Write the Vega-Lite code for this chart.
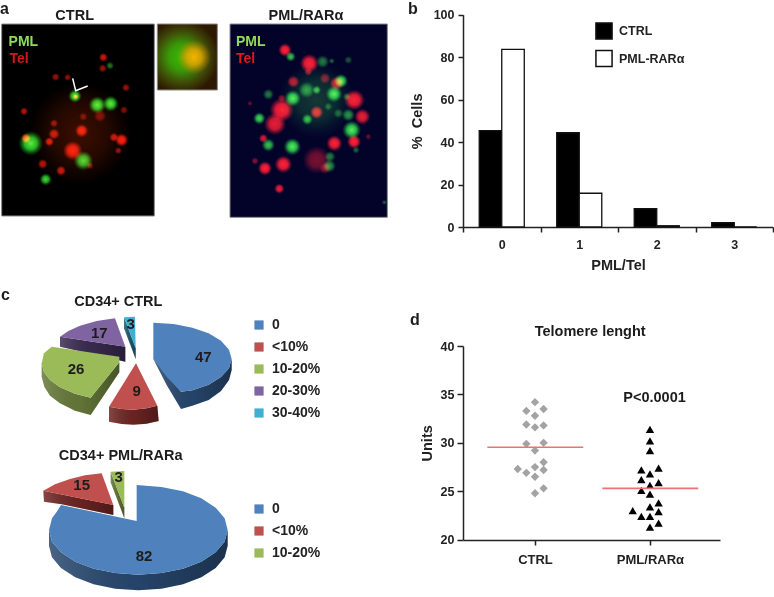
{
"$schema":"https://vega.github.io/schema/vega-lite/v6.json",
"padding":0,"background":"white","autosize":{"type":"pad"},
"columns":2,"bounds":"flush","spacing":{"row":0,"column":63},
"resolve":{"scale":{"color":"independent","shape":"independent","opacity":"independent","size":"independent"},"legend":{"color":"independent","shape":"independent","size":"independent","opacity":"independent"}},
"config":{"view":{"stroke":null},"font":"Liberation Sans","text":{"font":"Liberation Sans","fontWeight":"bold","color":"#1c1c1c"},
"axis":{"labelFont":"Liberation Sans","titleFont":"Liberation Sans","labelFontWeight":"bold","titleFontWeight":"bold","labelColor":"#222","titleColor":"#222","domainColor":"#222","tickColor":"#222","grid":false,"domainWidth":1.5,"tickWidth":1.5,"labelFontSize":12.5,"titleFontSize":14.5},
"legend":{"labelFont":"Liberation Sans","labelFontWeight":"bold","labelColor":"#222"}},
"datasets":{
"spots":[
{"cell":"CTRL","ch":"haze","x":240,"y":400,"spot":420,"lum":0.6},
{"cell":"CTRL","ch":"red","x":310,"y":172,"spot":3.2,"lum":0.8},{"cell":"CTRL","ch":"red","x":308,"y":205,"spot":2.6,"lum":0.6},{"cell":"CTRL","ch":"red","x":167,"y":231,"spot":2.6,"lum":0.6},{"cell":"CTRL","ch":"red","x":203,"y":232,"spot":2,"lum":0.6},{"cell":"CTRL","ch":"red","x":378,"y":263,"spot":2.6,"lum":0.6},{"cell":"CTRL","ch":"red","x":72,"y":334,"spot":2.6,"lum":0.7},{"cell":"CTRL","ch":"red","x":372,"y":330,"spot":2.6,"lum":0.5},{"cell":"CTRL","ch":"red","x":162,"y":370,"spot":2.6,"lum":0.6},{"cell":"CTRL","ch":"red","x":245,"y":392,"spot":7,"lum":1},{"cell":"CTRL","ch":"red","x":162,"y":402,"spot":5,"lum":0.8},{"cell":"CTRL","ch":"red","x":148,"y":425,"spot":3.4,"lum":0.9},{"cell":"CTRL","ch":"red","x":342,"y":412,"spot":3.4,"lum":0.8},{"cell":"CTRL","ch":"red","x":365,"y":420,"spot":7,"lum":1},{"cell":"CTRL","ch":"red","x":355,"y":452,"spot":2,"lum":0.6},{"cell":"CTRL","ch":"red","x":218,"y":452,"spot":15,"lum":1},{"cell":"CTRL","ch":"red","x":128,"y":492,"spot":4,"lum":0.7},{"cell":"CTRL","ch":"red","x":183,"y":512,"spot":4,"lum":0.8},{"cell":"CTRL","ch":"red","x":78,"y":415,"spot":4,"lum":1},{"cell":"CTRL","ch":"red","x":270,"y":497,"spot":2,"lum":0.5},{"cell":"CTRL","ch":"red","x":300,"y":348,"spot":6,"lum":0.45},{"cell":"CTRL","ch":"red","x":250,"y":350,"spot":2.6,"lum":0.45},{"cell":"CTRL","ch":"red","x":227,"y":290,"spot":1.2,"lum":1},
{"cell":"CTRL","ch":"green","x":330,"y":197,"spot":2.6,"lum":0.5},{"cell":"CTRL","ch":"green","x":225,"y":288,"spot":7,"lum":1},{"cell":"CTRL","ch":"green","x":292,"y":315,"spot":12,"lum":1},{"cell":"CTRL","ch":"green","x":332,"y":311,"spot":10,"lum":1},{"cell":"CTRL","ch":"green","x":92,"y":430,"spot":24,"lum":1},{"cell":"CTRL","ch":"green","x":250,"y":482,"spot":15,"lum":0.9},{"cell":"CTRL","ch":"green","x":137,"y":538,"spot":6,"lum":0.9},
{"cell":"PML","ch":"green","x":950,"y":300,"spot":220,"lum":0.22},
{"cell":"PML","ch":"red","x":855,"y":150,"spot":7,"lum":1},{"cell":"PML","ch":"red","x":928,"y":190,"spot":14,"lum":1},{"cell":"PML","ch":"red","x":880,"y":245,"spot":6,"lum":0.7},{"cell":"PML","ch":"red","x":975,"y":235,"spot":5,"lum":0.5},{"cell":"PML","ch":"red","x":1010,"y":250,"spot":8,"lum":0.8},{"cell":"PML","ch":"red","x":1063,"y":300,"spot":17,"lum":1},{"cell":"PML","ch":"red","x":845,"y":330,"spot":23,"lum":1},{"cell":"PML","ch":"red","x":825,"y":372,"spot":19,"lum":0.9},{"cell":"PML","ch":"red","x":1087,"y":350,"spot":10,"lum":0.9},{"cell":"PML","ch":"red","x":950,"y":337,"spot":7,"lum":0.9},{"cell":"PML","ch":"red","x":1062,"y":425,"spot":8,"lum":1},{"cell":"PML","ch":"red","x":1003,"y":430,"spot":10,"lum":1},{"cell":"PML","ch":"red","x":790,"y":415,"spot":3.2,"lum":0.8},{"cell":"PML","ch":"red","x":850,"y":493,"spot":12,"lum":1},{"cell":"PML","ch":"red","x":795,"y":505,"spot":8,"lum":1},{"cell":"PML","ch":"red","x":838,"y":566,"spot":4,"lum":0.9},{"cell":"PML","ch":"red","x":765,"y":483,"spot":2,"lum":0.5},{"cell":"PML","ch":"red","x":845,"y":295,"spot":2.6,"lum":0.5},{"cell":"PML","ch":"red","x":925,"y":215,"spot":2.6,"lum":0.6},{"cell":"PML","ch":"red","x":950,"y":480,"spot":30,"lum":0.45},{"cell":"PML","ch":"red","x":975,"y":505,"spot":5,"lum":0.5},{"cell":"PML","ch":"red","x":750,"y":310,"spot":1,"lum":0.4},{"cell":"PML","ch":"red","x":1105,"y":410,"spot":1.4,"lum":0.4},
{"cell":"PML","ch":"green","x":872,"y":170,"spot":4,"lum":0.8},{"cell":"PML","ch":"green","x":968,"y":185,"spot":7,"lum":0.5},{"cell":"PML","ch":"green","x":995,"y":183,"spot":1.4,"lum":0.4},{"cell":"PML","ch":"green","x":1045,"y":180,"spot":2.6,"lum":0.35},{"cell":"PML","ch":"green","x":1023,"y":243,"spot":8,"lum":1},{"cell":"PML","ch":"green","x":878,"y":295,"spot":11,"lum":1},{"cell":"PML","ch":"green","x":1002,"y":282,"spot":11,"lum":1},{"cell":"PML","ch":"green","x":805,"y":283,"spot":5,"lum":0.5},{"cell":"PML","ch":"green","x":920,"y":270,"spot":11,"lum":0.6},{"cell":"PML","ch":"green","x":950,"y":270,"spot":3.2,"lum":0.8},{"cell":"PML","ch":"green","x":778,"y":355,"spot":6,"lum":0.9},{"cell":"PML","ch":"green","x":922,"y":358,"spot":5,"lum":0.8},{"cell":"PML","ch":"green","x":1045,"y":345,"spot":7,"lum":0.6},{"cell":"PML","ch":"green","x":1055,"y":390,"spot":14,"lum":1},{"cell":"PML","ch":"green","x":877,"y":440,"spot":12,"lum":1},{"cell":"PML","ch":"green","x":805,"y":435,"spot":7,"lum":0.8},{"cell":"PML","ch":"green","x":990,"y":470,"spot":5,"lum":0.5},{"cell":"PML","ch":"green","x":988,"y":498,"spot":7,"lum":0.6},{"cell":"PML","ch":"green","x":1068,"y":450,"spot":2,"lum":0.4},{"cell":"PML","ch":"green","x":1015,"y":340,"spot":4,"lum":0.4},{"cell":"PML","ch":"green","x":1153,"y":607,"spot":1,"lum":0.4},{"cell":"PML","ch":"green","x":985,"y":320,"spot":2.6,"lum":0.4},{"cell":"PML","ch":"green","x":1040,"y":290,"spot":2.6,"lum":0.4}
],
"pies":[
{"pie":"CTRL","category":"20-30%","value":17,"part":"side","geometry":{"type":"Polygon","coordinates":[[[180,155],[376,185],[376,230],[180,185],[180,155]]]}},
{"pie":"CTRL","category":"30-40%","value":3,"part":"side","geometry":{"type":"Polygon","coordinates":[[[372,97],[407,190],[407,222],[372,130],[372,97]]]}},
{"pie":"CTRL","category":"10-20%","value":26,"part":"side","geometry":{"type":"Polygon","coordinates":[[[125,235],[132,262],[150,285],[180,307],[225,326],[272,338],[358,232],[358,262],[272,390],[225,377],[180,355],[150,332],[133,305],[125,275],[125,235]]]}},
{"pie":"CTRL","category":"<10%","value":9,"part":"side","geometry":{"type":"Polygon","coordinates":[[[327,365],[365,372],[400,374],[440,370],[472,362],[476,408],[440,416],[400,419],[365,417],[327,410],[327,365]]]}},
{"pie":"CTRL","category":"0","value":47,"part":"side","geometry":{"type":"Polygon","coordinates":[[[460,222],[543,320],[577,316],[626,299],[663,276],[687,250],[695,222],[695,255],[687,285],[663,318],[626,345],[577,362],[543,372],[500,300],[460,222]]]}},
{"pie":"PML","category":"<10%","value":15,"part":"side","geometry":{"type":"Polygon","coordinates":[[[130,617],[340,660],[340,690],[185,658],[132,650],[130,617]]]}},
{"pie":"PML","category":"10-20%","value":3,"part":"side","geometry":{"type":"Polygon","coordinates":[[[332,560],[373,668],[373,700],[332,592],[332,560]]]}},
{"pie":"PML","category":"0","value":82,"part":"side","geometry":{"type":"Polygon","coordinates":[[[147,735],[156,770],[183,802],[226,830],[281,851],[346,864],[415,869],[484,864],[549,851],[604,830],[647,802],[674,770],[683,735],[683,782],[674,817],[647,849],[604,877],[549,898],[484,911],[415,916],[346,911],[281,898],[226,877],[183,849],[156,817],[147,782],[147,735]]]}},
{"pie":"CTRL","category":"0","value":47,"part":"top","lx":610,"ly":215,"geometry":{"type":"Polygon","coordinates":[[[460,113],[521,117],[577,128],[626,145],[663,167],[687,194],[695,222],[687,250],[663,276],[626,299],[577,316],[543,320],[500,275],[460,222],[460,113]]]}},
{"pie":"CTRL","category":"<10%","value":9,"part":"top","lx":410,"ly":318,"geometry":{"type":"Polygon","coordinates":[[[408,235],[472,362],[440,370],[400,374],[365,372],[327,365],[408,235]]]}},
{"pie":"CTRL","category":"10-20%","value":26,"part":"top","lx":228,"ly":253,"geometry":{"type":"Polygon","coordinates":[[[155,185],[358,215],[358,232],[272,338],[225,326],[180,307],[150,285],[132,262],[125,235],[132,205],[155,185]]]}},
{"pie":"CTRL","category":"20-30%","value":17,"part":"top","lx":298,"ly":143,"geometry":{"type":"Polygon","coordinates":[[[345,100],[376,185],[180,155],[205,138],[240,122],[290,108],[345,100]]]}},
{"pie":"CTRL","category":"30-40%","value":3,"part":"top","lx":392,"ly":117,"geometry":{"type":"Polygon","coordinates":[[[372,97],[405,95],[407,190],[372,97]]]}},
{"pie":"PML","category":"0","value":82,"part":"top","lx":432,"ly":813,"geometry":{"type":"Polygon","coordinates":[[[410,600],[484,606],[549,619],[604,640],[647,668],[674,700],[683,735],[674,770],[647,802],[604,830],[549,851],[484,864],[415,869],[346,864],[281,851],[226,830],[183,802],[156,770],[147,735],[156,700],[172,678],[183,660],[410,708],[410,600]]]}},
{"pie":"PML","category":"<10%","value":15,"part":"top","lx":245,"ly":600,"geometry":{"type":"Polygon","coordinates":[[[130,617],[165,598],[210,582],[255,571],[305,565],[340,660],[130,617]]]}},
{"pie":"PML","category":"10-20%","value":3,"part":"top","lx":356,"ly":577,"geometry":{"type":"Polygon","coordinates":[[[332,560],[373,558],[373,668],[332,560]]]}}
]},
"concat":[
{"width":400,"height":285,
"resolve":{"scale":{"size":"independent","opacity":"independent","color":"independent"}},
"layer":[
{"data":{"values":[{"frame":"CTRL","x":5,"x1":463,"y":72,"y1":648},{"frame":"PML/RARα","x":690,"x1":1162,"y":72,"y1":652}]},
"mark":{"type":"rect","stroke":"#8a8a8a","strokeWidth":1},"encoding":{"x":{"field":"x","type":"quantitative","scale":{"domain":[0,1200],"nice":false},"axis":null},"y":{"field":"y","type":"quantitative","scale":{"domain":[0,855],"range":[0,285],"nice":false},"axis":null},"x2":{"field":"x1"},"y2":{"field":"y1"},"color":{"field":"frame","type":"nominal","scale":{"domain":["CTRL","PML/RARα"],"range":["#000000","#03032a"]},"legend":null}}},
{"data":{"values":[{"frame":"inset","x":472,"x1":652,"y":72,"y1":270}]},
"mark":{"type":"rect","stroke":"#8a8a8a","strokeWidth":1,"fill":{"gradient":"radial","x1":0.42,"y1":0.5,"r1":0,"x2":0.42,"y2":0.5,"r2":0.56,"stops":[{"offset":0,"color":"#2fc000"},{"offset":0.35,"color":"#3a9a08"},{"offset":0.7,"color":"#3f4a08"},{"offset":1,"color":"#2e1800"}]}},
"encoding":{"x":{"field":"x","type":"quantitative","scale":{"domain":[0,1200],"nice":false},"axis":null},"y":{"field":"y","type":"quantitative","scale":{"domain":[0,855],"range":[0,285],"nice":false},"axis":null},"x2":{"field":"x1"},"y2":{"field":"y1"}}},
{"data":{"values":[{"frame":"inset","x":472,"x1":652,"y":72,"y1":270}]},
"mark":{"type":"rect","fill":{"gradient":"radial","x1":0.6,"y1":0.5,"r1":0,"x2":0.6,"y2":0.5,"r2":0.26,"stops":[{"offset":0,"color":"#f4b400"},{"offset":0.45,"color":"rgba(235,165,0,0.8)"},{"offset":1,"color":"rgba(220,120,0,0)"}]}},
"encoding":{"x":{"field":"x","type":"quantitative","scale":{"domain":[0,1200],"nice":false},"axis":null},"y":{"field":"y","type":"quantitative","scale":{"domain":[0,855],"range":[0,285],"nice":false},"axis":null},"x2":{"field":"x1"},"y2":{"field":"y1"}}},
{"data":{"name":"spots"},"transform":[{"filter":"datum.ch==='haze'"}],
"mark":{"type":"circle","fill":{"gradient":"radial","x1":0.5,"y1":0.5,"r1":0,"x2":0.5,"y2":0.5,"r2":0.5,"stops":[{"offset":0,"color":"rgba(130,30,0,0.8)"},{"offset":0.55,"color":"rgba(110,25,0,0.55)"},{"offset":1,"color":"rgba(90,20,0,0)"}]}},
"encoding":{"x":{"field":"x","type":"quantitative","scale":{"domain":[0,1200],"nice":false},"axis":null},"y":{"field":"y","type":"quantitative","scale":{"domain":[0,855],"range":[0,285],"nice":false},"axis":null},"size":{"field":"spot","type":"quantitative","scale":{"domain":[0,10],"range":[0,252]},"legend":null},"opacity":{"field":"lum","type":"quantitative","scale":{"domain":[0,1],"range":[0,1]},"legend":null}}},
{"data":{"name":"spots"},"transform":[{"filter":"datum.ch==='red'"}],
"mark":{"type":"circle","blend":"screen","fill":{"gradient":"radial","x1":0.5,"y1":0.5,"r1":0,"x2":0.5,"y2":0.5,"r2":0.5,"stops":[{"offset":0,"color":"#ff1e10"},{"offset":0.5,"color":"rgba(245,25,15,0.9)"},{"offset":1,"color":"rgba(220,20,10,0)"}]}},
"encoding":{"x":{"field":"x","type":"quantitative","scale":{"domain":[0,1200],"nice":false},"axis":null},"y":{"field":"y","type":"quantitative","scale":{"domain":[0,855],"range":[0,285],"nice":false},"axis":null},"size":{"field":"spot","type":"quantitative","scale":{"domain":[0,10],"range":[0,252]},"legend":null},"opacity":{"field":"lum","type":"quantitative","scale":{"domain":[0,1],"range":[0,1]},"legend":null}}},
{"data":{"name":"spots"},"transform":[{"filter":"datum.ch==='green'"}],
"mark":{"type":"circle","blend":"screen","fill":{"gradient":"radial","x1":0.5,"y1":0.5,"r1":0,"x2":0.5,"y2":0.5,"r2":0.5,"stops":[{"offset":0,"color":"#5cf040"},{"offset":0.5,"color":"rgba(40,200,40,0.9)"},{"offset":1,"color":"rgba(20,140,30,0)"}]}},
"encoding":{"x":{"field":"x","type":"quantitative","scale":{"domain":[0,1200],"nice":false},"axis":null},"y":{"field":"y","type":"quantitative","scale":{"domain":[0,855],"range":[0,285],"nice":false},"axis":null},"size":{"field":"spot","type":"quantitative","scale":{"domain":[0,10],"range":[0,252]},"legend":null},"opacity":{"field":"lum","type":"quantitative","scale":{"domain":[0,1],"range":[0,1]},"legend":null}}},
{"data":{"values":[{"x":218,"y":235,"k":1},{"x":227,"y":272,"k":2},{"x":263,"y":258,"k":3}]},"mark":{"type":"line","color":"white","strokeWidth":1.5},"encoding":{"x":{"field":"x","type":"quantitative","scale":{"domain":[0,1200],"nice":false},"axis":null},"y":{"field":"y","type":"quantitative","scale":{"domain":[0,855],"range":[0,285],"nice":false},"axis":null},"order":{"field":"k"}}},
{"data":{"values":[{"t":"a"}]},"mark":{"type":"text","fontSize":16,"align":"left"},"encoding":{"x":{"datum":0,"scale":{"domain":[0,1200],"nice":false},"axis":null},"y":{"datum":27,"scale":{"domain":[0,855],"range":[0,285],"nice":false},"axis":null},"text":{"field":"t"}}},
{"data":{"values":[{"t":"CTRL"}]},"mark":{"type":"text","fontSize":14.5},"encoding":{"x":{"datum":224,"scale":{"domain":[0,1200],"nice":false},"axis":null},"y":{"datum":48,"scale":{"domain":[0,855],"range":[0,285],"nice":false},"axis":null},"text":{"field":"t"}}},
{"data":{"values":[{"t":"PML/RARα"}]},"mark":{"type":"text","fontSize":14.5},"encoding":{"x":{"datum":918,"scale":{"domain":[0,1200],"nice":false},"axis":null},"y":{"datum":48,"scale":{"domain":[0,855],"range":[0,285],"nice":false},"axis":null},"text":{"field":"t"}}},
{"data":{"values":[{"t":"PML"}]},"mark":{"type":"text","fontSize":14,"color":"#8fdc5c"},"encoding":{"x":{"datum":70,"scale":{"domain":[0,1200],"nice":false},"axis":null},"y":{"datum":125,"scale":{"domain":[0,855],"range":[0,285],"nice":false},"axis":null},"text":{"field":"t"}}},
{"data":{"values":[{"t":"Tel"}]},"mark":{"type":"text","fontSize":14,"color":"#d81818"},"encoding":{"x":{"datum":57,"scale":{"domain":[0,1200],"nice":false},"axis":null},"y":{"datum":178,"scale":{"domain":[0,855],"range":[0,285],"nice":false},"axis":null},"text":{"field":"t"}}},
{"data":{"values":[{"t":"PML"}]},"mark":{"type":"text","fontSize":14,"color":"#8fdc5c"},"encoding":{"x":{"datum":752,"scale":{"domain":[0,1200],"nice":false},"axis":null},"y":{"datum":125,"scale":{"domain":[0,855],"range":[0,285],"nice":false},"axis":null},"text":{"field":"t"}}},
{"data":{"values":[{"t":"Tel"}]},"mark":{"type":"text","fontSize":14,"color":"#e01818"},"encoding":{"x":{"datum":737,"scale":{"domain":[0,1200],"nice":false},"axis":null},"y":{"datum":178,"scale":{"domain":[0,855],"range":[0,285],"nice":false},"axis":null},"text":{"field":"t"}}},
{"data":{"values":[{"t":"b"}]},"mark":{"type":"text","fontSize":16,"align":"left"},"encoding":{"x":{"datum":1224,"scale":{"domain":[0,1200],"nice":false},"axis":null},"y":{"datum":27,"scale":{"domain":[0,855],"range":[0,285],"nice":false},"axis":null},"text":{"field":"t"}}}
]},
{"width":310,"height":227,
"data":{"values":[{"tel":"0","group":"CTRL","cells":45.4},{"tel":"0","group":"PML-RARα","cells":83.7},{"tel":"1","group":"CTRL","cells":44.4},{"tel":"1","group":"PML-RARα","cells":15.9},{"tel":"2","group":"CTRL","cells":8.6},{"tel":"2","group":"PML-RARα","cells":0.6},{"tel":"3","group":"CTRL","cells":2.0},{"tel":"3","group":"PML-RARα","cells":0}]},
"mark":{"type":"bar","stroke":"#111","strokeWidth":1.3},
"encoding":{
"x":{"field":"tel","type":"nominal","scale":{"paddingInner":0,"paddingOuter":0},"axis":{"labelAngle":0,"tickBand":"extent","title":"PML/Tel","tickSize":5,"labelPadding":6,"titlePadding":8}},
"xOffset":{"field":"group","type":"nominal","scale":{"paddingOuter":0.72,"paddingInner":0}},
"y":{"field":"cells","type":"quantitative","scale":{"domain":[0,100],"range":[227,14.7],"nice":false},"axis":{"values":[0,20,40,60,80,100],"title":"% \u00a0Cells","tickSize":5,"labelPadding":4,"titlePadding":9}},
"color":{"field":"group","type":"nominal","scale":{"domain":["CTRL","PML-RARα"],"range":["#000000","#ffffff"]},"legend":{"orient":"none","legendX":132,"legendY":22,"title":null,"symbolType":"square","symbolSize":260,"symbolStrokeColor":"#111","symbolStrokeWidth":1.5,"labelFontSize":12.5,"rowPadding":3.5,"labelOffset":6}}}},
{"width":400,"height":312,
"resolve":{"scale":{"color":"independent"},"legend":{"color":"independent"}},
"layer":[
{"data":{"name":"pies"},"transform":[{"filter":"datum.part==='side'"}],"projection":{"type":"identity","scale":0.33333,"translate":[0,0]},
"mark":{"type":"geoshape"},"encoding":{"shape":{"field":"geometry","type":"geojson"},"color":{"field":"category","type":"nominal","scale":{"domain":["0","<10%","10-20%","20-30%","30-40%"],"range":["#27476e","#6e2523","#66793a","#3a2b50","#1f5f72"]},"legend":null}}},
{"data":{"name":"pies"},"transform":[{"filter":"datum.part==='side'"}],"projection":{"type":"identity","scale":0.33333,"translate":[0,0]},
"mark":{"type":"geoshape","fill":{"gradient":"linear","x1":0,"y1":0,"x2":1,"y2":0,"stops":[{"offset":0,"color":"rgba(255,255,255,0.16)"},{"offset":0.5,"color":"rgba(0,0,0,0.05)"},{"offset":1,"color":"rgba(0,0,0,0.3)"}]}},"encoding":{"shape":{"field":"geometry","type":"geojson"}}},
{"data":{"name":"pies"},"transform":[{"filter":"datum.part==='top' && datum.pie==='CTRL'"}],"projection":{"type":"identity","scale":0.33333,"translate":[0,0]},
"mark":{"type":"geoshape"},"encoding":{"shape":{"field":"geometry","type":"geojson"},"color":{"field":"category","type":"nominal","scale":{"domain":["0","<10%","10-20%","20-30%","30-40%"],"range":["#4f81bd","#c0504d","#9bbb59","#8064a2","#3fb0d4"]},"legend":{"orient":"none","legendX":252,"legendY":33,"title":null,"symbolType":"square","symbolSize":85,"labelFontSize":14,"rowPadding":8,"labelOffset":6}}}},
{"data":{"name":"pies"},"transform":[{"filter":"datum.part==='top' && datum.pie==='PML'"}],"projection":{"type":"identity","scale":0.33333,"translate":[0,0]},
"mark":{"type":"geoshape"},"encoding":{"shape":{"field":"geometry","type":"geojson"},"color":{"field":"category","type":"nominal","scale":{"domain":["0","<10%","10-20%"],"range":["#4f81bd","#c0504d","#9bbb59"]},"legend":{"orient":"none","legendX":252,"legendY":217,"title":null,"symbolType":"square","symbolSize":85,"labelFontSize":14,"rowPadding":8,"labelOffset":6}}}},
{"data":{"name":"pies"},"transform":[{"filter":"datum.part==='top'"}],"mark":{"type":"text","fontSize":15},"encoding":{"x":{"field":"lx","type":"quantitative","scale":{"domain":[0,1200],"nice":false},"axis":null},"y":{"field":"ly","type":"quantitative","scale":{"domain":[0,936],"range":[0,312],"nice":false},"axis":null},"text":{"field":"value","type":"quantitative"}}},
{"data":{"values":[{"t":"c"}]},"mark":{"type":"text","fontSize":16,"align":"left"},"encoding":{"x":{"datum":3,"scale":{"domain":[0,1200],"nice":false},"axis":null},"y":{"datum":30,"scale":{"domain":[0,936],"range":[0,312],"nice":false},"axis":null},"text":{"field":"t"}}},
{"data":{"values":[{"t":"CD34+ CTRL"}]},"mark":{"type":"text","fontSize":14.5},"encoding":{"x":{"datum":355,"scale":{"domain":[0,1200],"nice":false},"axis":null},"y":{"datum":52,"scale":{"domain":[0,936],"range":[0,312],"nice":false},"axis":null},"text":{"field":"t"}}},
{"data":{"values":[{"t":"CD34+ PML/RARa"}]},"mark":{"type":"text","fontSize":14.5},"encoding":{"x":{"datum":362,"scale":{"domain":[0,1200],"nice":false},"axis":null},"y":{"datum":513,"scale":{"domain":[0,936],"range":[0,312],"nice":false},"axis":null},"text":{"field":"t"}}},
{"data":{"values":[{"t":"d"}]},"mark":{"type":"text","fontSize":16,"align":"left"},"encoding":{"x":{"datum":1230,"scale":{"domain":[0,1200],"nice":false},"axis":null},"y":{"datum":105,"scale":{"domain":[0,936],"range":[0,312],"nice":false},"axis":null},"text":{"field":"t"}}}
]},
{"width":257,"height":255,
"layer":[
{"data":{"values":[{"group":"CTRL","x":1,"units":34.2},{"group":"CTRL","x":0.925,"units":33.3},{"group":"CTRL","x":1.075,"units":33.5},{"group":"CTRL","x":1,"units":32.8},{"group":"CTRL","x":0.925,"units":31.9},{"group":"CTRL","x":1.075,"units":31.8},{"group":"CTRL","x":1,"units":31.6},{"group":"CTRL","x":0.925,"units":29.9},{"group":"CTRL","x":1.075,"units":30.0},{"group":"CTRL","x":1,"units":29.2},{"group":"CTRL","x":1.075,"units":28.0},{"group":"CTRL","x":1,"units":27.5},{"group":"CTRL","x":0.85,"units":27.3},{"group":"CTRL","x":1.075,"units":27.2},{"group":"CTRL","x":0.925,"units":26.9},{"group":"CTRL","x":1,"units":26.5},{"group":"CTRL","x":1.075,"units":25.3},{"group":"CTRL","x":1,"units":24.8},
{"group":"PML/RARα","x":2,"units":31.4},{"group":"PML/RARα","x":2,"units":30.2},{"group":"PML/RARα","x":2,"units":29.2},{"group":"PML/RARα","x":2.075,"units":27.4},{"group":"PML/RARα","x":1.925,"units":27.2},{"group":"PML/RARα","x":2,"units":26.8},{"group":"PML/RARα","x":1.925,"units":26.2},{"group":"PML/RARα","x":2.075,"units":25.9},{"group":"PML/RARα","x":2,"units":25.6},{"group":"PML/RARα","x":1.925,"units":25.1},{"group":"PML/RARα","x":2,"units":24.7},{"group":"PML/RARα","x":2.075,"units":23.8},{"group":"PML/RARα","x":2,"units":23.4},{"group":"PML/RARα","x":1.85,"units":23.0},{"group":"PML/RARα","x":2.075,"units":22.9},{"group":"PML/RARα","x":1.925,"units":22.4},{"group":"PML/RARα","x":2,"units":22.4},{"group":"PML/RARα","x":2.075,"units":21.7},{"group":"PML/RARα","x":2,"units":21.3}]},
"mark":{"type":"point","filled":true,"opacity":1},
"encoding":{"x":{"field":"x","type":"quantitative","scale":{"domain":[0.374,2.609],"nice":false},"axis":{"values":[1,2],"labelExpr":"datum.value===1?'CTRL':'PML/RARα'","title":null,"tickSize":5,"labelPadding":8,"labelFontSize":13}},
"y":{"field":"units","type":"quantitative","scale":{"domain":[20,40],"range":[254.7,61],"nice":false},"axis":{"values":[20,25,30,35,40],"title":"Units","tickSize":6,"labelPadding":3,"titlePadding":6}},
"shape":{"field":"group","type":"nominal","scale":{"domain":["CTRL","PML/RARα"],"range":["diamond","triangle-up"]},"legend":null},"color":{"field":"group","type":"nominal","scale":{"domain":["CTRL","PML/RARα"],"range":["#a3a3a3","#000000"]},"legend":null},"size":{"value":70}}},
{"data":{"values":[{"group":"CTRL","x":0.586,"x1":1.42,"units":29.55},{"group":"PML/RARα","x":1.586,"x1":2.42,"units":25.3}]},"mark":{"type":"rule","color":"#ee7070","strokeWidth":1.6},"encoding":{"x":{"field":"x","type":"quantitative","scale":{"domain":[0.374,2.609],"nice":false},"axis":{"values":[1,2],"labelExpr":"datum.value===1?'CTRL':'PML/RARα'","title":null,"tickSize":5,"labelPadding":8,"labelFontSize":13}},"y":{"field":"units","type":"quantitative","scale":{"domain":[20,40],"range":[254.7,61],"nice":false},"axis":{"values":[20,25,30,35,40],"title":"Units","tickSize":6,"labelPadding":3,"titlePadding":6}},"x2":{"field":"x1"}}},
{"data":{"values":[{"t":"Telomere lenght"}]},"mark":{"type":"text","fontSize":14.5},"encoding":{"x":{"datum":1.48,"scale":{"domain":[0.374,2.609],"nice":false},"axis":{"values":[1,2],"labelExpr":"datum.value===1?'CTRL':'PML/RARα'","title":null,"tickSize":5,"labelPadding":8,"labelFontSize":13}},"y":{"datum":41.45,"scale":{"domain":[20,40],"range":[254.7,61],"nice":false},"axis":{"values":[20,25,30,35,40],"title":"Units","tickSize":6,"labelPadding":3,"titlePadding":6}},"text":{"field":"t"}}},
{"data":{"values":[{"t":"P<0.0001"}]},"mark":{"type":"text","fontSize":14.5},"encoding":{"x":{"datum":2.04,"scale":{"domain":[0.374,2.609],"nice":false},"axis":{"values":[1,2],"labelExpr":"datum.value===1?'CTRL':'PML/RARα'","title":null,"tickSize":5,"labelPadding":8,"labelFontSize":13}},"y":{"datum":34.66,"scale":{"domain":[20,40],"range":[254.7,61],"nice":false},"axis":{"values":[20,25,30,35,40],"title":"Units","tickSize":6,"labelPadding":3,"titlePadding":6}},"text":{"field":"t"}}}
]}
]}
